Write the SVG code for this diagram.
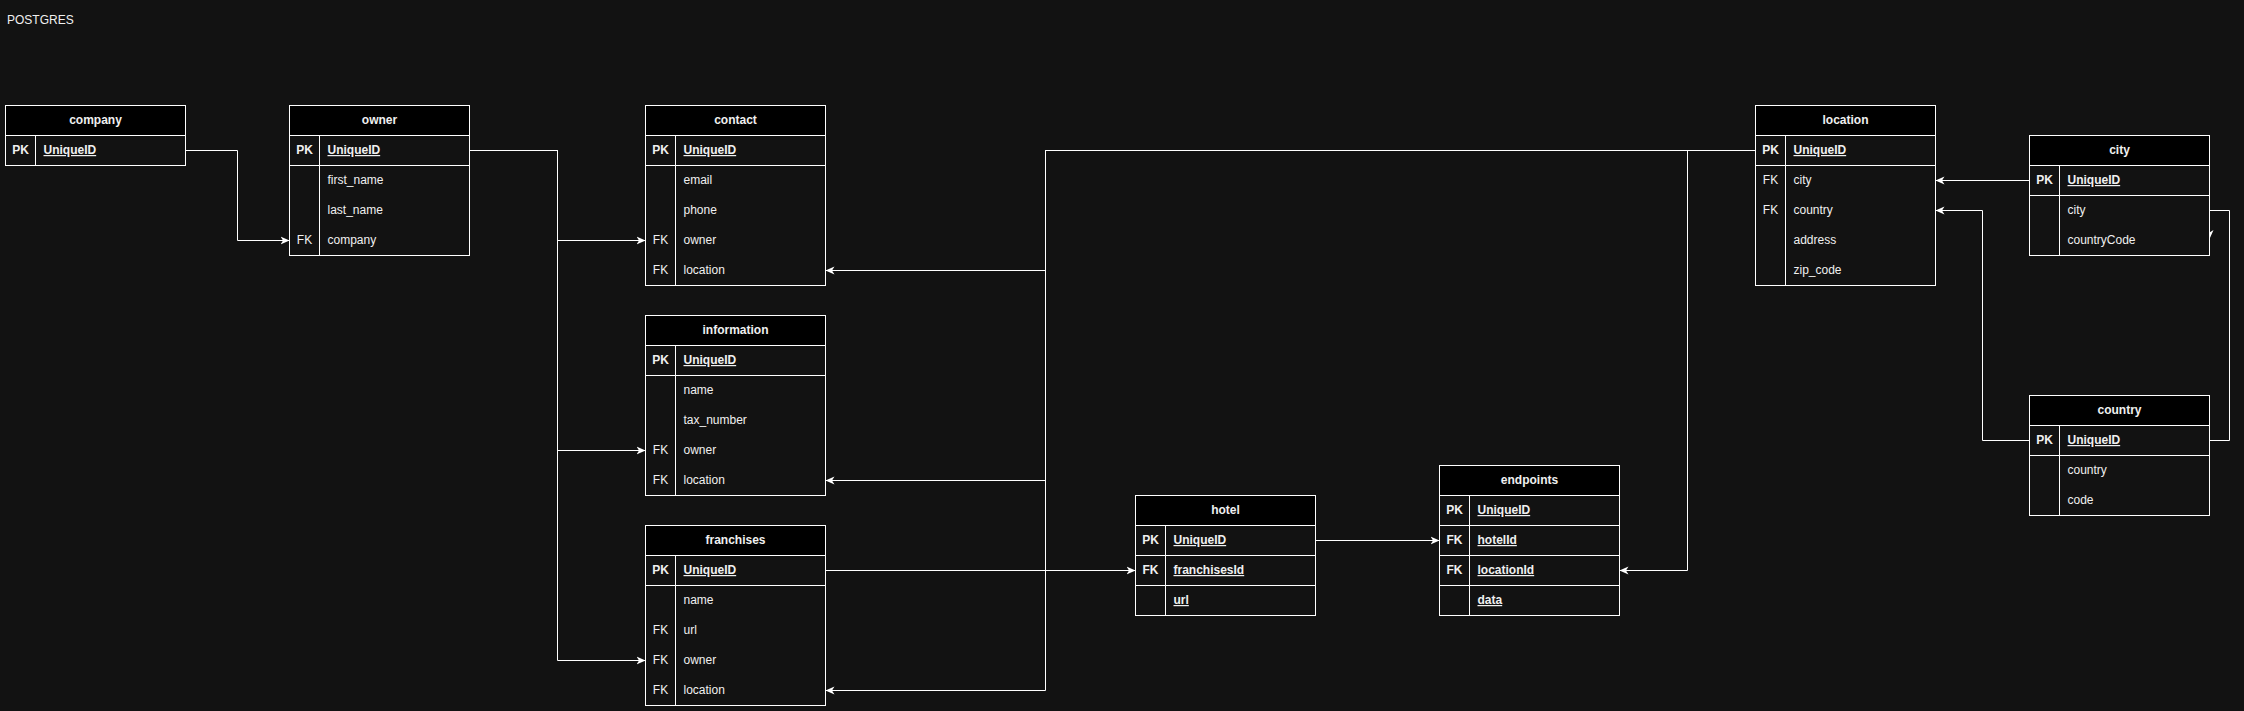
<svg xmlns="http://www.w3.org/2000/svg" width="2244" height="711" viewBox="0 0 2244 711">
<style>
.t{font-family:"Liberation Sans",Arial,Helvetica,sans-serif;font-size:12px;fill:#f0f0f0}
.b{font-weight:bold}
.u{text-decoration:underline}
.m{text-anchor:middle}
.tb{fill:#121212;stroke:#ffffff;stroke-width:1}
.hd{fill:#000000;stroke:#ffffff;stroke-width:1}
.ln{stroke:#ffffff;stroke-width:1;fill:none}
.c{fill:none;stroke:#ffffff;stroke-width:1}
</style>
<defs>
<marker id="arr" markerUnits="userSpaceOnUse" markerWidth="10" markerHeight="10" refX="9" refY="5" orient="auto">
<path d="M0,1 L9,5 L0,9 L2.5,5 Z" fill="#ffffff"/>
</marker>
</defs>
<rect width="2244" height="711" fill="#121212"/>
<text class="t" x="7" y="24">POSTGRES</text>

<g id="connectors">
<path class="c" marker-end="url(#arr)" d="M185.5,150.5 H237.5 V240.5 H289.5"/>
<path class="c" marker-end="url(#arr)" d="M469.5,150.5 H557.5 V240.5 H645.5"/>
<path class="c" marker-end="url(#arr)" d="M469.5,150.5 H557.5 V450.5 H645.5"/>
<path class="c" marker-end="url(#arr)" d="M469.5,150.5 H557.5 V660.5 H645.5"/>
<path class="c" marker-end="url(#arr)" d="M1755.5,150.5 H1045.5 V270.5 H825.5"/>
<path class="c" marker-end="url(#arr)" d="M1755.5,150.5 H1045.5 V480.5 H825.5"/>
<path class="c" marker-end="url(#arr)" d="M1755.5,150.5 H1045.5 V690.5 H825.5"/>
<path class="c" marker-end="url(#arr)" d="M1755.5,150.5 H1687.5 V570.5 H1619.5"/>
<path class="c" marker-end="url(#arr)" d="M825.5,570.5 H1135.5"/>
<path class="c" marker-end="url(#arr)" d="M1315.5,540.5 H1439.5"/>
<path class="c" marker-end="url(#arr)" d="M2029.5,180.5 H1935.5"/>
<path class="c" marker-end="url(#arr)" d="M2029.5,440.5 H1982.5 V210.5 H1935.5"/>
<path class="c" marker-end="url(#arr)" d="M2209.5,440.5 H2229.5 V210.5 H2209.5 V239"/>
</g>

<g id="company">
<rect class="tb" x="5.5" y="105.5" width="180" height="60"/>
<rect class="hd" x="5.5" y="105.5" width="180" height="30"/>
<line class="ln" x1="35.5" y1="135.5" x2="35.5" y2="165.5"/>
<text class="t b m" x="95.5" y="124">company</text>
<text class="t b m" x="20.5" y="154">PK</text>
<text class="t b u" x="43.5" y="154">UniqueID</text>
</g>

<g id="owner">
<rect class="tb" x="289.5" y="105.5" width="180" height="150"/>
<rect class="hd" x="289.5" y="105.5" width="180" height="30"/>
<line class="ln" x1="289.5" y1="165.5" x2="469.5" y2="165.5"/>
<line class="ln" x1="319.5" y1="135.5" x2="319.5" y2="255.5"/>
<text class="t b m" x="379.5" y="124">owner</text>
<text class="t b m" x="304.5" y="154">PK</text>
<text class="t b u" x="327.5" y="154">UniqueID</text>
<text class="t" x="327.5" y="184">first_name</text>
<text class="t" x="327.5" y="214">last_name</text>
<text class="t m" x="304.5" y="244">FK</text>
<text class="t" x="327.5" y="244">company</text>
</g>

<g id="contact">
<rect class="tb" x="645.5" y="105.5" width="180" height="180"/>
<rect class="hd" x="645.5" y="105.5" width="180" height="30"/>
<line class="ln" x1="645.5" y1="165.5" x2="825.5" y2="165.5"/>
<line class="ln" x1="675.5" y1="135.5" x2="675.5" y2="285.5"/>
<text class="t b m" x="735.5" y="124">contact</text>
<text class="t b m" x="660.5" y="154">PK</text>
<text class="t b u" x="683.5" y="154">UniqueID</text>
<text class="t" x="683.5" y="184">email</text>
<text class="t" x="683.5" y="214">phone</text>
<text class="t m" x="660.5" y="244">FK</text>
<text class="t" x="683.5" y="244">owner</text>
<text class="t m" x="660.5" y="274">FK</text>
<text class="t" x="683.5" y="274">location</text>
</g>

<g id="information">
<rect class="tb" x="645.5" y="315.5" width="180" height="180"/>
<rect class="hd" x="645.5" y="315.5" width="180" height="30"/>
<line class="ln" x1="645.5" y1="375.5" x2="825.5" y2="375.5"/>
<line class="ln" x1="675.5" y1="345.5" x2="675.5" y2="495.5"/>
<text class="t b m" x="735.5" y="334">information</text>
<text class="t b m" x="660.5" y="364">PK</text>
<text class="t b u" x="683.5" y="364">UniqueID</text>
<text class="t" x="683.5" y="394">name</text>
<text class="t" x="683.5" y="424">tax_number</text>
<text class="t m" x="660.5" y="454">FK</text>
<text class="t" x="683.5" y="454">owner</text>
<text class="t m" x="660.5" y="484">FK</text>
<text class="t" x="683.5" y="484">location</text>
</g>

<g id="franchises">
<rect class="tb" x="645.5" y="525.5" width="180" height="180"/>
<rect class="hd" x="645.5" y="525.5" width="180" height="30"/>
<line class="ln" x1="645.5" y1="585.5" x2="825.5" y2="585.5"/>
<line class="ln" x1="675.5" y1="555.5" x2="675.5" y2="705.5"/>
<text class="t b m" x="735.5" y="544">franchises</text>
<text class="t b m" x="660.5" y="574">PK</text>
<text class="t b u" x="683.5" y="574">UniqueID</text>
<text class="t" x="683.5" y="604">name</text>
<text class="t m" x="660.5" y="634">FK</text>
<text class="t" x="683.5" y="634">url</text>
<text class="t m" x="660.5" y="664">FK</text>
<text class="t" x="683.5" y="664">owner</text>
<text class="t m" x="660.5" y="694">FK</text>
<text class="t" x="683.5" y="694">location</text>
</g>

<g id="hotel">
<rect class="tb" x="1135.5" y="495.5" width="180" height="120"/>
<rect class="hd" x="1135.5" y="495.5" width="180" height="30"/>
<line class="ln" x1="1135.5" y1="555.5" x2="1315.5" y2="555.5"/>
<line class="ln" x1="1135.5" y1="585.5" x2="1315.5" y2="585.5"/>
<line class="ln" x1="1165.5" y1="525.5" x2="1165.5" y2="615.5"/>
<text class="t b m" x="1225.5" y="514">hotel</text>
<text class="t b m" x="1150.5" y="544">PK</text>
<text class="t b u" x="1173.5" y="544">UniqueID</text>
<text class="t b m" x="1150.5" y="574">FK</text>
<text class="t b u" x="1173.5" y="574">franchisesId</text>
<text class="t b u" x="1173.5" y="604">url</text>
</g>

<g id="endpoints">
<rect class="tb" x="1439.5" y="465.5" width="180" height="150"/>
<rect class="hd" x="1439.5" y="465.5" width="180" height="30"/>
<line class="ln" x1="1439.5" y1="525.5" x2="1619.5" y2="525.5"/>
<line class="ln" x1="1439.5" y1="555.5" x2="1619.5" y2="555.5"/>
<line class="ln" x1="1439.5" y1="585.5" x2="1619.5" y2="585.5"/>
<line class="ln" x1="1469.5" y1="495.5" x2="1469.5" y2="615.5"/>
<text class="t b m" x="1529.5" y="484">endpoints</text>
<text class="t b m" x="1454.5" y="514">PK</text>
<text class="t b u" x="1477.5" y="514">UniqueID</text>
<text class="t b m" x="1454.5" y="544">FK</text>
<text class="t b u" x="1477.5" y="544">hotelId</text>
<text class="t b m" x="1454.5" y="574">FK</text>
<text class="t b u" x="1477.5" y="574">locationId</text>
<text class="t b u" x="1477.5" y="604">data</text>
</g>

<g id="location">
<rect class="tb" x="1755.5" y="105.5" width="180" height="180"/>
<rect class="hd" x="1755.5" y="105.5" width="180" height="30"/>
<line class="ln" x1="1755.5" y1="165.5" x2="1935.5" y2="165.5"/>
<line class="ln" x1="1785.5" y1="135.5" x2="1785.5" y2="285.5"/>
<text class="t b m" x="1845.5" y="124">location</text>
<text class="t b m" x="1770.5" y="154">PK</text>
<text class="t b u" x="1793.5" y="154">UniqueID</text>
<text class="t m" x="1770.5" y="184">FK</text>
<text class="t" x="1793.5" y="184">city</text>
<text class="t m" x="1770.5" y="214">FK</text>
<text class="t" x="1793.5" y="214">country</text>
<text class="t" x="1793.5" y="244">address</text>
<text class="t" x="1793.5" y="274">zip_code</text>
</g>

<g id="city">
<rect class="tb" x="2029.5" y="135.5" width="180" height="120"/>
<rect class="hd" x="2029.5" y="135.5" width="180" height="30"/>
<line class="ln" x1="2029.5" y1="195.5" x2="2209.5" y2="195.5"/>
<line class="ln" x1="2059.5" y1="165.5" x2="2059.5" y2="255.5"/>
<text class="t b m" x="2119.5" y="154">city</text>
<text class="t b m" x="2044.5" y="184">PK</text>
<text class="t b u" x="2067.5" y="184">UniqueID</text>
<text class="t" x="2067.5" y="214">city</text>
<text class="t" x="2067.5" y="244">countryCode</text>
</g>

<g id="country">
<rect class="tb" x="2029.5" y="395.5" width="180" height="120"/>
<rect class="hd" x="2029.5" y="395.5" width="180" height="30"/>
<line class="ln" x1="2029.5" y1="455.5" x2="2209.5" y2="455.5"/>
<line class="ln" x1="2059.5" y1="425.5" x2="2059.5" y2="515.5"/>
<text class="t b m" x="2119.5" y="414">country</text>
<text class="t b m" x="2044.5" y="444">PK</text>
<text class="t b u" x="2067.5" y="444">UniqueID</text>
<text class="t" x="2067.5" y="474">country</text>
<text class="t" x="2067.5" y="504">code</text>
</g>
</svg>
